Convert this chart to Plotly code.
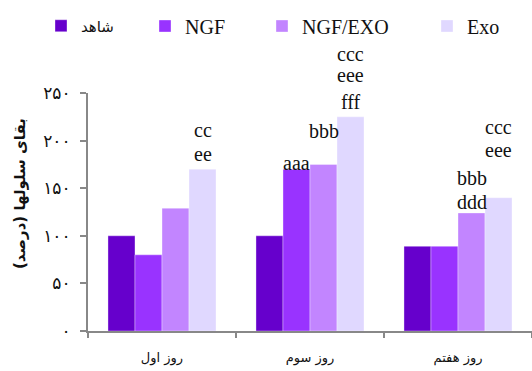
import plotly.graph_objects as go

# ---- data ----
categories = ["روز اول", "روز سوم", "روز هفتم"]
series_names = ["شاهد", "NGF", "NGF/EXO", "Exo"]
control_vals = [100, 100, 89]
ngf_vals = [80, 170, 89]
ngf_exo_vals = [129, 175, 124]
exo_vals = [170, 225, 140]
y_tick_vals = [0, 50, 100, 150, 200, 250]
y_tick_text = ["۰", "۵۰", "۱۰۰", "۱۵۰", "۲۰۰", "۲۵۰"]
y_title = "بقای سلولها (درصد)"

# significance letters: (category index, series index, lines from top to bottom)
sig_cat = [0, 1, 1, 1, 2, 2]
sig_series = [3, 1, 2, 3, 2, 3]
sig_lines = [["cc", "ee"], ["aaa"], ["bbb"], ["ccc", "eee", "fff"], ["bbb", "ddd"], ["ccc", "eee"]]

# ---- layout/style (not data) ----
colors = ["#6600CC", "#9933FF", "#C285FF", "#E0D8FF"]
# pixel offsets (center of each line above bar top), top->bottom
sig_shifts = [[37, 13], [4], [31], [61, 39.5, 12.5], [33, 9], [69, 46]]
legend_x_px = [41, 145, 262, 427]
legend_fonts = [("DejaVu Sans", 15), ("Liberation Serif", 20), ("Liberation Serif", 20), ("Liberation Serif", 20)]

W, H = 532, 371
serif = "Liberation Serif"
sans = "DejaVu Sans"

all_vals = [control_vals, ngf_vals, ngf_exo_vals, exo_vals]
fig = go.Figure()
for i, (name, vals) in enumerate(zip(series_names, all_vals)):
    leg = "legend" if i == 0 else f"legend{i+1}"
    fig.add_trace(go.Bar(
        x=categories, y=vals, name=name, showlegend=True,
        marker=dict(color=colors[i], line=dict(color="rgba(255,255,255,0.35)", width=1)),
        legend=leg, hoverinfo="x+y+name",
    ))

ml, mr, mt, mb = 88, 0, 93, 40
pw, ph = W - ml - mr, H - mt - mb

bar_px = 148 * (1 - 0.27) / 4
annotations = []
for c, s, lines, shifts in zip(sig_cat, sig_series, sig_lines, sig_shifts):
    val = all_vals[s][c]
    for txt, sh in zip(lines, shifts):
        annotations.append(dict(
            x=categories[c], y=val, xref="x", yref="y",
            xshift=(s - 1.5) * bar_px, yshift=sh + 2,
            text=txt, showarrow=False, yanchor="middle", xanchor="center",
            font=dict(family=serif, size=20, color="#111"),
        ))

annotations.append(dict(
    x=(20 - ml) / pw, y=(H - mb - 194) / ph, xref="paper", yref="paper",
    text=f"<b>{y_title}</b>", textangle=-90, showarrow=False,
    font=dict(family=sans, size=15, color="#111"),
    xanchor="center", yanchor="middle",
))

layout_legends = {}
for i in range(4):
    key = "legend" if i == 0 else f"legend{i+1}"
    fam, sz = legend_fonts[i]
    layout_legends[key] = dict(
        xref="container", yref="container",
        x=legend_x_px[i] / W, y=1 - 26 / H,
        xanchor="left", yanchor="middle",
        orientation="h", bgcolor="rgba(0,0,0,0)", borderwidth=0,
        font=dict(family=fam, size=sz, color="#111"),
        visible=True,
    )

fig.update_layout(
    width=W, height=H, showlegend=True,
    margin=dict(l=ml, r=mr, t=mt, b=mb, autoexpand=False),
    paper_bgcolor="white", plot_bgcolor="white",
    barmode="group", bargap=0.27, bargroupgap=0,
    annotations=annotations,
    **layout_legends,
)
fig.update_xaxes(
    type="category", range=[-0.5, 2.5], tickson="boundaries",
    ticks="outside", ticklen=5, tickwidth=2, tickcolor="#888",
    showline=True, linecolor="#888", linewidth=2, showgrid=False,
    tickfont=dict(family=sans, size=13, color="#111"), ticklabelstandoff=13,
)
fig.update_yaxes(
    range=[0, 250], tickvals=y_tick_vals, ticktext=y_tick_text,
    ticks="outside", ticklen=6, tickwidth=2, tickcolor="#888",
    showline=True, linecolor="#888", linewidth=2, showgrid=False, zeroline=False,
    tickfont=dict(family=sans, size=17, color="#111"), ticklabelstandoff=6,
)

fig.write_html(
    "out.html",
    config={"displayModeBar": False},
    post_script="document.body.style.margin='0';document.body.style.overflow='hidden';",
)
